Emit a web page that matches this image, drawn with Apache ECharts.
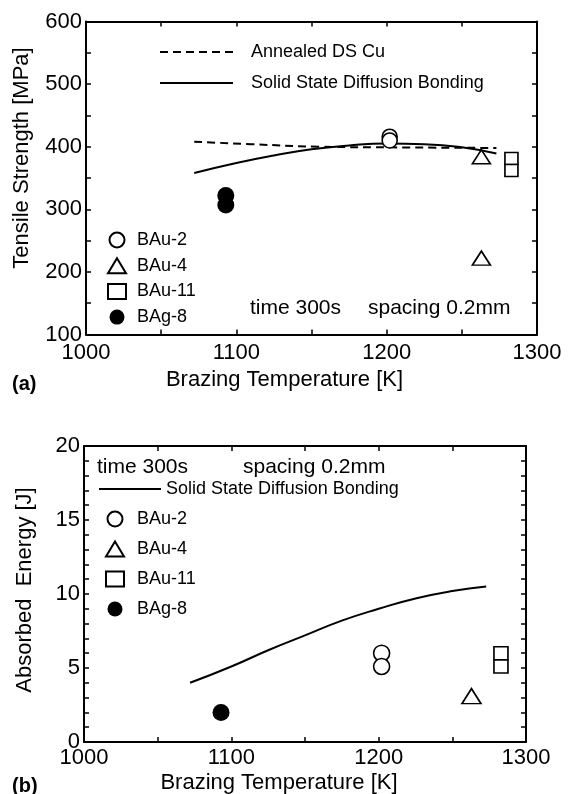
<!DOCTYPE html>
<html>
<head>
<meta charset="utf-8">
<script src="https://cdn.jsdelivr.net/npm/echarts@6/dist/echarts.min.js"></script>
<style>
html,body{margin:0;padding:0;background:#fff;}
#c{width:571px;height:794px;}
</style>
</head>
<body>
<div id="c"></div>
<script>
// ---------- data ----------
const xTicks = [1000, 1100, 1200, 1300];
const tensileTicks = [100, 200, 300, 400, 500, 600];
const energyTicks = [0, 5, 10, 15, 20];

// (a) tensile strength
const annealedTemp = [1072, 1110, 1155, 1200, 1273];
const annealedTensile = [408, 404, 400, 399, 398];
const bondTempA = [1072, 1100, 1125, 1150, 1175, 1200, 1225, 1250, 1273];
const bondTensile = [358, 374, 386, 396, 402, 405, 404, 399, 389];
const bau2TempA = [1202, 1202];
const bau2Tensile = [416, 410];
const bau4TempA = [1263, 1263];
const bau4Tensile = [384, 222];
const bau11TempA = [1283, 1283];
const bau11Tensile = [381, 362];
const bag8TempA = [1093, 1093];
const bag8Tensile = [322, 307];

// (b) absorbed energy
const bondTempB = [1072, 1100, 1125, 1150, 1175, 1200, 1225, 1250, 1273];
const bondEnergy = [4.0, 5.1, 6.2, 7.2, 8.2, 9.0, 9.7, 10.2, 10.5];
const bau2TempB = [1202, 1202];
const bau2Energy = [6.0, 5.1];
const bau4TempB = [1263];
const bau4Energy = [3.1];
const bau11TempB = [1283, 1283];
const bau11Energy = [6.0, 5.1];
const bag8TempB = [1093];
const bag8Energy = [2.0];

// ---------- helpers ----------
const FONT = '"Liberation Sans", Arial, sans-serif';
const zip = (a, b) => a.map((v, i) => [v, b[i]]);

function xAx(grid, pos, margin, nameGap, namePad) {
  const o = {
    gridIndex: grid, type: 'value', position: pos,
    min: xTicks[0], max: xTicks[xTicks.length - 1], interval: 50,
    axisLine: {show: true, onZero: false, lineStyle: {color: '#000', width: 2}},
    axisTick: {show: true, inside: true, length: 5, lineStyle: {color: '#000', width: 1.5}},
    splitLine: {show: false},
    axisLabel: {show: pos === 'bottom', color: '#000', fontSize: 22, fontFamily: FONT, margin: margin,
      formatter: v => (xTicks.indexOf(v) >= 0 ? String(v) : '')},
    nameMoveOverlap: false
  };
  if (pos === 'bottom') {
    o.name = 'Brazing Temperature [K]';
    o.nameLocation = 'middle';
    o.nameGap = nameGap;
    o.nameTextStyle = {color: '#000', fontSize: 22, fontFamily: FONT, padding: [0, namePad, 0, 0]};
  }
  return o;
}
function yAx(grid, pos, ticks, interval, name, nameGap, namePad) {
  const o = {
    gridIndex: grid, type: 'value', position: pos,
    min: ticks[0], max: ticks[ticks.length - 1], interval: interval,
    axisLine: {show: true, onZero: false, lineStyle: {color: '#000', width: 2}},
    axisTick: {show: true, inside: true, length: 5, lineStyle: {color: '#000', width: 1.5}},
    splitLine: {show: false},
    axisLabel: {show: pos === 'left', color: '#000', fontSize: 22, fontFamily: FONT, margin: 4,
      formatter: v => (ticks.indexOf(v) >= 0 ? String(v) : '')},
    nameMoveOverlap: false
  };
  if (pos === 'left') {
    o.name = name;
    o.nameLocation = 'middle';
    o.nameGap = nameGap;
    o.nameTextStyle = {color: '#000', fontSize: 22, fontFamily: FONT, padding: [0, 0, 0, namePad]};
  }
  return o;
}
function scatter(name, data, xi, symbol, size, filled) {
  return {
    name: name, type: 'scatter', xAxisIndex: xi, yAxisIndex: xi, data: data,
    symbol: symbol, symbolSize: size,
    itemStyle: {color: filled ? '#000' : '#fff', borderColor: '#000', borderWidth: filled ? 0 : 1.6, opacity: 1},
    emphasis: {disabled: true}, z: 5
  };
}
function line(name, data, xi, dashed) {
  return {
    name: name, type: 'line', xAxisIndex: xi, yAxisIndex: xi, data: data,
    smooth: true, symbol: 'none', showSymbol: false,
    lineStyle: {color: '#000', width: 2, type: dashed ? [8, 5] : 'solid'},
    itemStyle: {color: 'rgba(0,0,0,0)', borderWidth: 0},
    emphasis: {disabled: true}, z: 3
  };
}
const legendText = {color: '#000', fontSize: 18, fontFamily: FONT, lineHeight: 20};
const markerNames = ['BAu-2', 'BAu-4', 'BAu-11', 'BAg-8'];
const hideDot = {opacity: 0};

const chart = echarts.init(document.getElementById('c'), null, {renderer: 'canvas'});
chart.setOption({
  animation: false,
  backgroundColor: '#fff',
  grid: [
    {left: 86, top: 21.5, width: 451, height: 313, outerBoundsMode: 'none', containLabel: false},
    {left: 84, top: 446, width: 442, height: 296, outerBoundsMode: 'none', containLabel: false}
  ],
  xAxis: [
    xAx(0, 'bottom', 7, 34, 54), xAx(0, 'top'),
    xAx(1, 'bottom', 5, 30, 52), xAx(1, 'top')
  ],
  yAxis: [
    yAx(0, 'left', tensileTicks, 50, 'Tensile Strength [MPa]', 53, 40), yAx(0, 'right', tensileTicks, 50),
    yAx(1, 'left', energyTicks, 1, 'Absorbed  Energy [J]', 48, 8), yAx(1, 'right', energyTicks, 1)
  ],
  legend: [
    {data: [{name: 'Annealed DS Cu', itemStyle: hideDot}, {name: 'Solid State Diffusion Bonding', itemStyle: hideDot}],
      orient: 'vertical', left: 159, top: 42,
      padding: 0, itemWidth: 73, itemHeight: 14, itemGap: 11, selectedMode: false,
      textStyle: Object.assign({padding: [0, 0, 0, 13]}, legendText)},
    {data: markerNames, orient: 'vertical', left: 107, top: 230, padding: 0,
      itemWidth: 18, itemHeight: 15, itemGap: 5.7, selectedMode: false,
      textStyle: Object.assign({padding: [0, 0, 0, 6]}, legendText)},
    {data: [{name: 'Solid State Diffusion Bonding', itemStyle: hideDot}], orient: 'vertical', left: 98, top: 479, padding: 0,
      itemWidth: 62, itemHeight: 14, selectedMode: false, textStyle: legendText},
    {data: markerNames, orient: 'vertical', left: 105, top: 509, padding: 0,
      itemWidth: 18, itemHeight: 15, itemGap: 10, selectedMode: false,
      textStyle: Object.assign({padding: [0, 0, 0, 8]}, legendText)}
  ],
  graphic: [
    {type: 'text', x: 250, y: 308, style: {text: 'time 300s', fontSize: 21, fontFamily: FONT, fill: '#000', verticalAlign: 'middle'}},
    {type: 'text', x: 368, y: 308, style: {text: 'spacing 0.2mm', fontSize: 21, fontFamily: FONT, fill: '#000', verticalAlign: 'middle'}},
    {type: 'text', x: 97, y: 467, style: {text: 'time 300s', fontSize: 21, fontFamily: FONT, fill: '#000', verticalAlign: 'middle'}},
    {type: 'text', x: 243, y: 467, style: {text: 'spacing 0.2mm', fontSize: 21, fontFamily: FONT, fill: '#000', verticalAlign: 'middle'}},
    {type: 'text', x: 12, y: 384, style: {text: '(a)', fontSize: 20, fontWeight: 'bold', fontFamily: FONT, fill: '#000', verticalAlign: 'middle'}},
    {type: 'text', x: 12, y: 786, style: {text: '(b)', fontSize: 20, fontWeight: 'bold', fontFamily: FONT, fill: '#000', verticalAlign: 'middle'}}
  ],
  series: [
    line('Annealed DS Cu', zip(annealedTemp, annealedTensile), 0, true),
    line('Solid State Diffusion Bonding', zip(bondTempA, bondTensile), 0, false),
    scatter('BAu-2', zip(bau2TempA, bau2Tensile), 0, 'circle', 15, false),
    scatter('BAu-4', zip(bau4TempA, bau4Tensile), 0, 'triangle', [18, 14], false),
    scatter('BAu-11', zip(bau11TempA, bau11Tensile), 0, 'rect', [13, 12], false),
    scatter('BAg-8', zip(bag8TempA, bag8Tensile), 0, 'circle', 17, true),

    line('Solid State Diffusion Bonding', zip(bondTempB, bondEnergy), 2, false),
    scatter('BAu-2', zip(bau2TempB, bau2Energy), 2, 'circle', 16, false),
    scatter('BAu-4', zip(bau4TempB, bau4Energy), 2, 'triangle', [19, 15], false),
    scatter('BAu-11', zip(bau11TempB, bau11Energy), 2, 'rect', [14, 13], false),
    scatter('BAg-8', zip(bag8TempB, bag8Energy), 2, 'circle', 17, true)
  ]
});
</script>
</body>
</html>
